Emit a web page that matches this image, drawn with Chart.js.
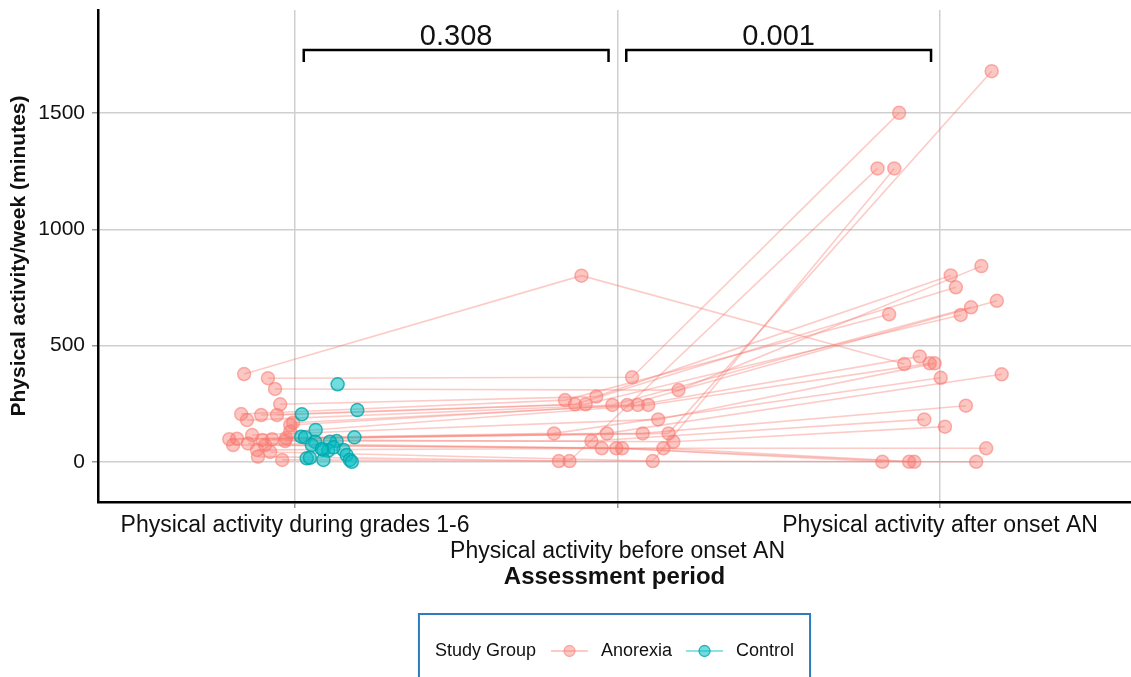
<!DOCTYPE html>
<html>
<head>
<meta charset="utf-8">
<script src="https://cdn.jsdelivr.net/npm/chart.js@4.4.0/dist/chart.umd.min.js"></script>
<style>
  body { margin: 0; background: #fff; }
  #wrap { width: 1131px; height: 677px; position: relative; }
</style>
</head>
<body>
<div id="wrap"><canvas id="activityChart"></canvas></div>
<script>
const periods = ['Physical activity during grades 1-6', 'Physical activity before onset AN', 'Physical activity after onset AN'];
const yTickValues = [0, 500, 1000, 1500];
const groups = ['Anorexia', 'Control'];
const comparisons = [[1, 2], [2, 3]];
const pValues = ['0.308', '0.001'];

// anorexia subjects, one entry per girl (jittered x position, minutes/week)
const anGradesX = [0.842, 0.916, 0.938, 0.954, 0.833, 0.895, 0.944, 0.851, 0.985, 0.994, 0.985, 0.867, 0.820, 0.972, 0.929, 0.796, 0.969, 0.898, 0.808, 0.907, 0.854, 0.882, 0.960, 0.885, 0.923];
const anGradesY = [378, 360, 314, 248, 206, 202, 202, 180, 159, 169, 130, 116, 100, 103, 98, 98, 90, 95, 73, 73, 80, 52, 9, 23, 43];
const anBeforeX = [1.888, 2.045, 2.189, 1.934, 1.837, 1.868, 1.901, 1.984, 2.030, 2.063, 2.095, 2.126, 1.803, 1.967, 2.078, 2.158, 1.919, 2.173, 1.951, 1.996, 2.014, 2.142, 1.818, 1.851, 2.109];
const anBeforeY = [801, 364, 309, 281, 266, 248, 248, 245, 245, 245, 245, 183, 123, 123, 123, 123, 90, 87, 59, 59, 59, 59, 4, 4, 4];
const anAfterX = [2.889, 2.873, 3.128, 3.033, 2.842, 3.049, 3.064, 3.096, 3.176, 2.937, 2.968, 2.983, 3.002, 3.191, 3.080, 3.160, 2.951, 3.015, 3.143, 2.821, 2.904, 2.920, 3.112, 2.806, 2.858];
const anAfterY = [421, 1501, 842, 802, 635, 751, 632, 665, 693, 454, 424, 424, 362, 377, 242, 1680, 183, 152, 59, 1, 1, 1, 1, 1262, 1262];

// control group, grades 1-6 only
const ctrlX = [1.132, 1.193, 1.021, 1.064, 1.019, 1.031, 1.184, 1.062, 1.129, 1.108, 1.052, 1.088, 1.103, 1.150, 1.160, 1.036, 1.046, 1.088, 1.170, 1.176, 1.119, 1.083];
const ctrlY = [334, 223, 205, 138, 109, 106, 106, 87, 90, 87, 73, 52, 49, 52, 30, 16, 18, 9, 9, 1, 63, 56];

const FONT = '"Liberation Sans", Arial, sans-serif';
const AN_LINE = 'rgba(248,118,109,0.38)';
const AN_FILL = 'rgba(248,118,109,0.42)';
const AN_EDGE = 'rgba(248,118,109,0.55)';
const CT_FILL = 'rgba(0,191,196,0.55)';
const CT_EDGE = 'rgba(0,165,170,0.8)';

function buildDatasets() {
  const sets = [];
  sets.push({
    label: groups[1],
    data: ctrlX.map((x, i) => ({ x, y: ctrlY[i] })),
    pointRadius: 6.5,
    pointBackgroundColor: CT_FILL,
    pointBorderColor: CT_EDGE,
    pointBorderWidth: 1.5,
    showLine: false
  });
  const anPoints = [];
  anGradesX.forEach((x, i) => {
    anPoints.push({ x, y: anGradesY[i] });
    anPoints.push({ x: anBeforeX[i], y: anBeforeY[i] });
    anPoints.push({ x: anAfterX[i], y: anAfterY[i] });
  });
  sets.push({
    label: groups[0],
    data: anPoints,
    pointRadius: 6.5,
    pointBackgroundColor: AN_FILL,
    pointBorderColor: AN_EDGE,
    pointBorderWidth: 1.5,
    showLine: false
  });
  anGradesX.forEach((x, i) => {
    sets.push({
      label: groups[0] + ' ' + (i + 1),
      data: [
        { x, y: anGradesY[i] },
        { x: anBeforeX[i], y: anBeforeY[i] },
        { x: anAfterX[i], y: anAfterY[i] }
      ],
      showLine: true,
      borderColor: AN_LINE,
      borderWidth: 1.6,
      pointRadius: 0
    });
  });
  return sets;
}

const annotations = {
  id: 'annotations',
  afterDraw(chart) {
    const { ctx, chartArea } = chart;
    const xs = chart.scales.x, ys = chart.scales.y;
    ctx.save();

    // significance brackets
    ctx.strokeStyle = '#000';
    ctx.lineWidth = 2.5;
    ctx.fillStyle = '#111';
    ctx.font = '29px ' + FONT;
    ctx.textAlign = 'center';
    ctx.textBaseline = 'alphabetic';
    comparisons.forEach((pair, i) => {
      const x1 = xs.getPixelForValue(pair[0] + 0.027);
      const x2 = xs.getPixelForValue(pair[1] - 0.028);
      const yTop = ys.getPixelForValue(1771);
      const yEnd = ys.getPixelForValue(1719);
      ctx.beginPath();
      ctx.moveTo(x1, yEnd);
      ctx.lineTo(x1, yTop);
      ctx.lineTo(x2, yTop);
      ctx.lineTo(x2, yEnd);
      ctx.stroke();
      ctx.fillText(pValues[i], (x1 + x2) / 2, yTop - 5);
    });

    // legend box at the bottom
    ctx.font = '18px ' + FONT;
    ctx.textAlign = 'left';
    ctx.textBaseline = 'middle';
    const title = 'Study Group';
    const keyW = 37;
    const parts = [ctx.measureText(title).width, 15, keyW, 13, ctx.measureText(groups[0]).width, 14, keyW, 13, ctx.measureText(groups[1]).width];
    const contentW = parts.reduce((a, b) => a + b, 0);
    const boxW = contentW + 32;
    const cx = (chartArea.left + chartArea.right) / 2;
    const boxX = cx - boxW / 2;
    const boxY = 614;
    const midY = 651;
    ctx.strokeStyle = '#2E7BBF';
    ctx.lineWidth = 2;
    ctx.strokeRect(boxX, boxY, boxW, 80);

    let px = boxX + 16;
    ctx.fillStyle = '#111';
    ctx.fillText(title, px, midY);
    px += parts[0] + parts[1];
    const keys = [[AN_LINE, AN_FILL, AN_EDGE], ['rgba(0,191,196,0.45)', CT_FILL, CT_EDGE]];
    groups.forEach((g, i) => {
      const [lc, fc, ec] = keys[i];
      ctx.strokeStyle = lc;
      ctx.lineWidth = 1.8;
      ctx.beginPath();
      ctx.moveTo(px, midY);
      ctx.lineTo(px + keyW, midY);
      ctx.stroke();
      ctx.beginPath();
      ctx.arc(px + keyW / 2, midY, 5.5, 0, Math.PI * 2);
      ctx.fillStyle = fc;
      ctx.fill();
      ctx.strokeStyle = ec;
      ctx.lineWidth = 1.3;
      ctx.stroke();
      px += keyW + 13;
      ctx.fillStyle = '#111';
      ctx.fillText(g, px, midY);
      px += ctx.measureText(g).width + 14;
    });
    ctx.restore();
  }
};

const ctx = document.getElementById('activityChart').getContext('2d');
new Chart(ctx, {
  type: 'scatter',
  data: { datasets: buildDatasets() },
  plugins: [annotations],
  options: {
    responsive: true,
    maintainAspectRatio: false,
    animation: false,
    layout: { autoPadding: false, padding: { top: 10, right: 0, bottom: 0, left: 0 } },
    plugins: { legend: { display: false }, tooltip: { enabled: false } },
    scales: {
      x: {
        type: 'linear',
        min: 0.389,
        max: 3.592,
        afterFit: s => { s.height = 175; s.paddingLeft = 0; s.paddingRight = 0; },
        afterBuildTicks: s => { s.ticks = periods.map((p, i) => ({ value: i + 1 })); },
        ticks: {
          autoSkip: false,
          maxRotation: 0,
          padding: 4,
          color: '#111',
          font: { family: FONT, size: 23, lineHeight: 1.15 },
          callback: v => (v === 2 ? ['', periods[1]] : periods[v - 1])
        },
        grid: { color: '#cfcfcf', lineWidth: 1.5, tickLength: 6, tickColor: '#999' },
        border: { display: true, color: '#000', width: 2.5 },
        title: {
          display: true,
          text: 'Assessment period',
          color: '#111',
          font: { family: FONT, size: 24, weight: 'bold' },
          padding: { top: 0, bottom: 85 }
        }
      },
      y: {
        min: -172,
        max: 1943,
        afterFit: s => { s.width = 98; s.paddingTop = 0; s.paddingBottom = 0; },
        afterBuildTicks: s => { s.ticks = yTickValues.map(v => ({ value: v })); },
        ticks: {
          padding: 7,
          color: '#111',
          font: { family: FONT, size: 21 },
          callback: v => String(v)
        },
        grid: { color: '#cfcfcf', lineWidth: 1.5, tickLength: 6, tickColor: '#999' },
        border: { display: true, color: '#000', width: 2.5 },
        title: {
          display: true,
          text: 'Physical activity/week (minutes)',
          color: '#111',
          font: { family: FONT, size: 21, weight: 'bold' },
          padding: { top: 7, bottom: 0 }
        }
      }
    }
  }
});
</script>
</body>
</html>
